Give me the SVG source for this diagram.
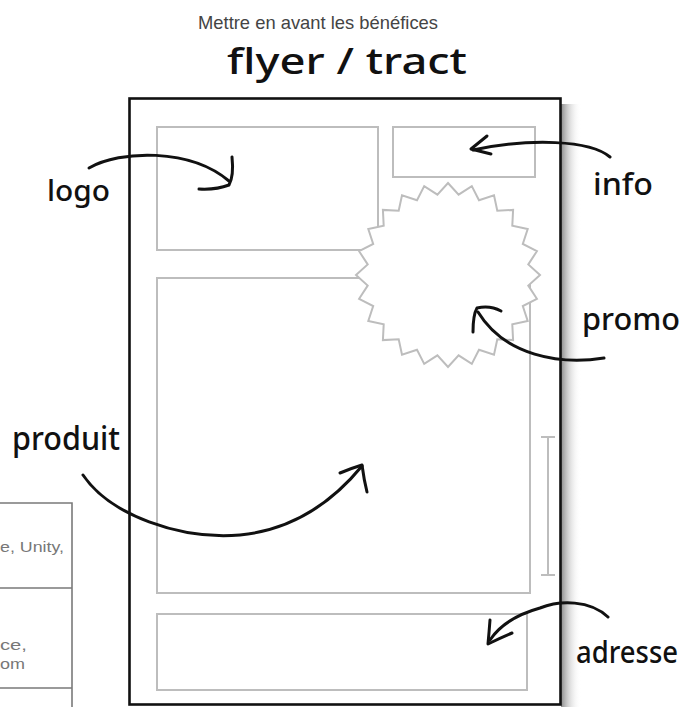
<svg xmlns="http://www.w3.org/2000/svg" width="693" height="707" viewBox="0 0 693 707">
<style>
.frame{fill:#fff;stroke:#111;stroke-width:2.6}
.box{fill:none;stroke:#bdbdbd;stroke-width:2}
.star{fill:#fff;stroke:#bdbdbd;stroke-width:2;stroke-linejoin:miter}
.arrow{fill:none;stroke:#111;stroke-width:3;stroke-linecap:round;stroke-linejoin:round}
.hand{font-family:"Noto Sans","DejaVu Sans",sans-serif;font-weight:500;fill:#111}
.tbl{fill:none;stroke:#7a7a7a;stroke-width:1.6}
.tbltxt{font-family:"Liberation Sans",Arial,sans-serif;font-size:15px;fill:#777}
</style>
<defs>
<linearGradient id="shadow" x1="0" y1="0" x2="1" y2="0">
<stop offset="0" stop-color="#6e6e6e" stop-opacity="0.8"/>
<stop offset="0.4" stop-color="#b0b0b0" stop-opacity="0.5"/>
<stop offset="1" stop-color="#ffffff" stop-opacity="0"/>
</linearGradient>
</defs>
<rect width="693" height="707" fill="#fff"/>

<g id="title">
<text x="198" y="29" font-family="Liberation Sans,Arial,sans-serif" font-size="19" fill="#444" textLength="240" lengthAdjust="spacingAndGlyphs">Mettre en avant les bénéfices</text>
</g>
<g id="heading">
<text class="hand" x="227" y="74" font-size="36" textLength="240" lengthAdjust="spacingAndGlyphs">flyer / tract</text>
</g>

<g id="table">
<path class="tbl" d="M0 503 H72 V707 M0 588 H72 M0 688 H72"/>
<text class="tbltxt" x="0" y="552" textLength="64" lengthAdjust="spacingAndGlyphs">e, Unity,</text>
<text class="tbltxt" x="0" y="650" textLength="27" lengthAdjust="spacingAndGlyphs">ce,</text>
<text class="tbltxt" x="0" y="669" textLength="25" lengthAdjust="spacingAndGlyphs">om</text>
</g>

<g id="flyer">
<rect x="561" y="104" width="20" height="603" fill="url(#shadow)"/>
<rect class="frame" x="129.5" y="98.5" width="431" height="606"/>
</g>
<g id="logo-box"><rect class="box" x="157" y="127" width="221" height="123"/></g>
<g id="info-box"><rect class="box" x="393" y="127" width="142" height="50"/></g>
<g id="produit-box"><rect class="box" x="157" y="278" width="373" height="315"/></g>
<g id="adresse-box"><rect class="box" x="157" y="614" width="370" height="76"/></g>
<g id="scale"><path class="box" d="M548 437 V575 M541 437 H555 M541 575 H555" stroke-width="1.6"/></g>
<g id="promo-star">
<polygon class="star" points="448,183 458.6,194.7 471.8,186.1 479,200.2 494,195.3 497.3,210.7 513.1,209.9 512.3,225.7 527.7,229 522.8,244 536.9,251.2 528.3,264.4 540,275 528.3,285.6 536.9,298.8 522.8,306 527.7,321 512.3,324.3 513.1,340.1 497.3,339.3 494,354.7 479,349.8 471.8,363.9 458.6,355.3 448,367 437.4,355.3 424.2,363.9 417,349.8 402,354.7 398.7,339.3 382.9,340.1 383.7,324.3 368.3,321 373.2,306 359.1,298.8 367.7,285.6 356,275 367.7,264.4 359.1,251.2 373.2,244 368.3,229 383.7,225.7 382.9,209.9 398.7,210.7 402,195.3 417,200.2 424.2,186.1 437.4,194.7"/>
</g>

<g id="labels">
<g id="label-logo"><text class="hand" x="47" y="201" font-size="28" textLength="63" lengthAdjust="spacingAndGlyphs">logo</text></g>
<g id="label-info"><text class="hand" x="593" y="195" font-size="30" textLength="60" lengthAdjust="spacingAndGlyphs">info</text></g>
<g id="label-promo"><text class="hand" x="582" y="330" font-size="30" textLength="98" lengthAdjust="spacingAndGlyphs">promo</text></g>
<g id="label-produit"><text class="hand" x="12" y="450" font-size="32" textLength="108" lengthAdjust="spacingAndGlyphs">produit</text></g>
<g id="label-adresse"><text class="hand" x="576" y="663" font-size="31" textLength="102" lengthAdjust="spacingAndGlyphs">adresse</text></g>
</g>

<g id="connectors">
<path class="arrow" d="M89 168 C120 150 190 148 229 181"/>
<path class="arrow" d="M232 157 Q234 176 229 185 Q216 190 199 189"/>
<path class="arrow" d="M610 157 C590 140 530 138 473 150"/>
<path class="arrow" d="M487 136 L471 149 L491 154"/>
<path class="arrow" d="M604 358 C560 365 505 356 478 312"/>
<path class="arrow" d="M473 332 Q473 315 477 308 Q490 305 501 311"/>
<path class="arrow" d="M83 475 C110 515 180 540 240 535 C290 530 330 505 362 466"/>
<path class="arrow" d="M340 473 Q352 468 362 465 Q364 480 367 492"/>
<path class="arrow" d="M608 617 C590 600 560 600 540 608 C515 615 500 625 490 640"/>
<path class="arrow" d="M490 620 Q489 633 488 644 Q500 638 512 633"/>
</g>
</svg>
